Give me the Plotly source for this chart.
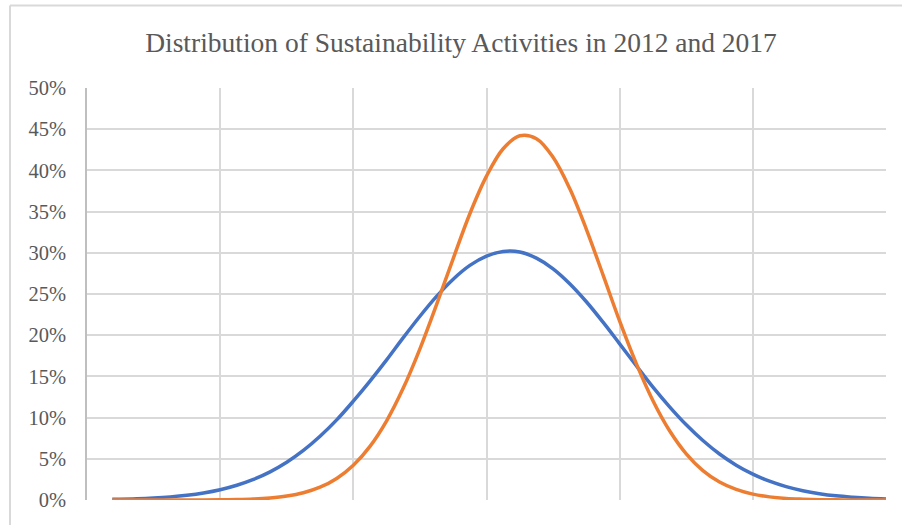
import plotly.graph_objects as go

title_text = "Distribution of Sustainability Activities in 2012 and 2017"

x_vals = [0.19, 0.375, 0.5, 0.625, 0.75, 0.875, 1.0, 1.125, 1.25, 1.375, 1.5, 1.625,
          1.75, 1.875, 2.0, 2.125, 2.25, 2.375, 2.5, 2.625, 2.75, 2.875, 3.0, 3.125,
          3.25, 3.375, 3.5, 3.625, 3.75, 3.875, 4.0, 4.125, 4.25, 4.375, 4.5, 4.625,
          4.75, 4.875, 5.0, 5.125, 5.25, 5.375, 5.5, 5.625, 5.75, 5.875, 6.0]

series_2012 = [0.0008, 0.0015, 0.0024, 0.0038, 0.0058, 0.0086, 0.0125, 0.0179, 0.0250,
               0.0342, 0.0458, 0.0601, 0.0773, 0.0972, 0.1200, 0.1443, 0.1700, 0.1970,
               0.2230, 0.2471, 0.2680, 0.2847, 0.2960, 0.3016, 0.3010, 0.2935, 0.2806,
               0.2625, 0.2406, 0.2158, 0.1895, 0.1630, 0.1370, 0.1131, 0.0913, 0.0722,
               0.0558, 0.0423, 0.0314, 0.0228, 0.0162, 0.0113, 0.0077, 0.0051, 0.0034,
               0.0021, 0.0013]

series_2017 = [0.0000, 0.0000, 0.0000, 0.0000, 0.0001, 0.0001, 0.0003, 0.0006, 0.0012,
               0.0025, 0.0048, 0.0088, 0.0155, 0.0262, 0.0422, 0.0651, 0.0961, 0.1358,
               0.1835, 0.2372, 0.2930, 0.3474, 0.3930, 0.4263, 0.4420, 0.4385, 0.4160,
               0.3780, 0.3285, 0.2732, 0.2170, 0.1655, 0.1205, 0.0840, 0.0560, 0.0357,
               0.0218, 0.0128, 0.0071, 0.0038, 0.0019, 0.0010, 0.0004, 0.0002, 0.0001,
               0.0000, 0.0000]

y_ticks = [0, 0.05, 0.10, 0.15, 0.20, 0.25, 0.30, 0.35, 0.40, 0.45, 0.50]
y_tick_labels = ["0%", "5%", "10%", "15%", "20%", "25%", "30%", "35%", "40%", "45%", "50%"]

fig = go.Figure()
fig.add_trace(go.Scatter(x=x_vals, y=series_2012, mode="lines", name="2012",
                         line=dict(color="#4472C4", width=3.5, shape="spline", smoothing=1.0),
                         cliponaxis=False, hoverinfo="skip"))
fig.add_trace(go.Scatter(x=x_vals, y=series_2017, mode="lines", name="2017",
                         line=dict(color="#ED7D31", width=3.5, shape="spline", smoothing=1.0),
                         cliponaxis=False, hoverinfo="skip"))

L, R, T, B = 87, 16, 88, 25
W, H = 902, 525
pw, ph = W - L - R, H - T - B

def px_to_paper_x(px):
    return (px - L) / pw

def px_to_paper_y(py):
    return (H - B - py) / ph

border_color = "#d9d9d9"
fig.add_shape(type="line", xref="paper", yref="paper",
              x0=px_to_paper_x(10), x1=px_to_paper_x(1000),
              y0=px_to_paper_y(5.5), y1=px_to_paper_y(5.5),
              line=dict(color=border_color, width=2))
fig.add_shape(type="line", xref="paper", yref="paper",
              x0=px_to_paper_x(10), x1=px_to_paper_x(10),
              y0=px_to_paper_y(5.5), y1=px_to_paper_y(700),
              line=dict(color=border_color, width=2))

fig.update_layout(
    width=W, height=H,
    margin=dict(l=L, r=R, t=T, b=B),
    paper_bgcolor="white", plot_bgcolor="white",
    showlegend=False,
    title=dict(text=title_text, x=461 / W, xanchor="center", xref="container",
               y=1 - 42 / H, yanchor="middle", yref="container",
               font=dict(family="Liberation Serif", size=27.5, color="#595959")),
    font=dict(family="Liberation Serif", color="#595959"),
)
fig.update_xaxes(range=[0, 6], dtick=1, tick0=0, showgrid=True, gridcolor="#d9d9d9",
                 gridwidth=1.5, showticklabels=False, zeroline=False, showline=False,
                 ticks="", fixedrange=True)
fig.update_yaxes(range=[0, 0.5], tickvals=y_ticks, ticktext=y_tick_labels,
                 showgrid=True, gridcolor="#d9d9d9", gridwidth=1.5, zeroline=False,
                 showline=True, linecolor="#bfbfbf", linewidth=1.5,
                 ticks="", ticklabelstandoff=15,
                 tickfont=dict(family="Liberation Serif", size=20.5, color="#595959"),
                 fixedrange=True)

fig.write_html("out.html", config={"displayModeBar": False},
               post_script="document.body.style.margin='0';")
